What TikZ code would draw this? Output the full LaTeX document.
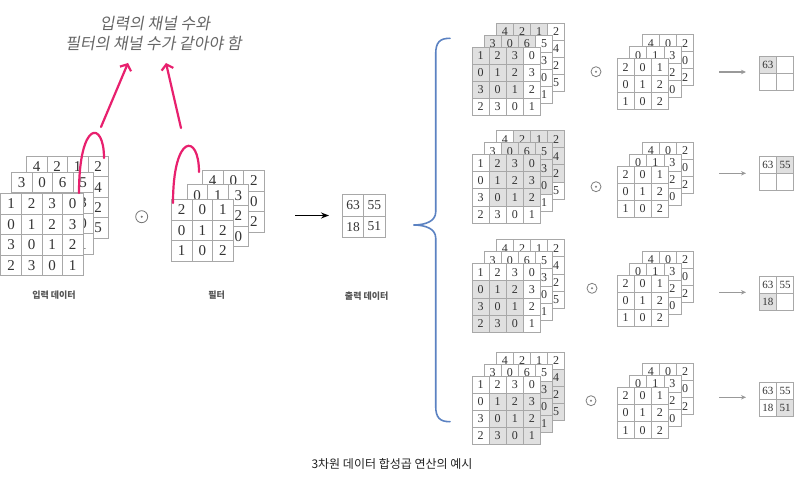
\documentclass[tikz,border=0pt]{standalone}
\usepackage{fontspec}
\setmainfont{Liberation Serif}
\newfontfamily\krfont{Noto Sans CJK KR}
\newfontfamily\krit[FakeSlant=0.18]{Noto Sans CJK KR}
\usetikzlibrary{arrows.meta}
\definecolor{gridc}{HTML}{A8A8A8}
\definecolor{shadec}{HTML}{E0E0E0}
\definecolor{numc}{HTML}{333333}
\definecolor{pinkc}{HTML}{E8206E}
\definecolor{bracec}{HTML}{5B82C2}
\definecolor{titlec}{HTML}{666666}
\definecolor{labelc}{HTML}{555555}
\definecolor{capc}{HTML}{222222}
\definecolor{garrowc}{HTML}{999999}
\tikzset{
  cellbox/.style={draw=gridc, line width=0.7pt, text=numc, inner sep=0pt, anchor=north west},
  bignum/.style={font=\fontsize{15}{15}\selectfont},
  smallnum/.style={font=\fontsize{12}{12}\selectfont},
  outnum/.style={font=\fontsize{13.5}{13.5}\selectfont},
  tinynum/.style={font=\fontsize{11}{11}\selectfont},
  opcirc/.style={circle, draw=#1, line width=0.8pt, inner sep=0pt,
     path picture={\fill[#1] (path picture bounding box.center) circle (1.1pt);}},
  titlesty/.style={font=\krit\fontsize{16}{16}\selectfont, text=titlec, inner sep=0pt},
  labelsty/.style={font=\krfont\bfseries\fontsize{9}{9}\selectfont, text=labelc, inner sep=0pt},
  capsty/.style={font=\krfont\fontsize{12}{12}\selectfont, text=capc, inner sep=0pt},
  pinkline/.style={draw=pinkc, line width=2.2pt, line cap=round},
  pinkarrow/.style={pinkline, -{Straight Barb[length=5pt,width=12pt]}},
  blackarrow/.style={draw=black, line width=1.6pt, -{Stealth[length=8pt,width=6pt]}},
  grayarrow/.style={draw=garrowc, line width=1.4pt, -{Stealth[length=5pt,width=4.5pt]}},
}
% #1 name, #2 x, #3 y(top), #4 cell, #5 font style, #6 data, #7 r0, #8 c0, #9 window size
\newcommand{\cellgrid}[9]{%
  \foreach \row [count=\r from 0] in {#6} {
    \foreach \v [count=\c from 0] in \row {
      \pgfmathtruncatemacro\inwin{and(and(\r>=#7,\r<#7+#9),and(\c>=#8,\c<#8+#9))}
      \ifnum\inwin=1 \def\cellfill{shadec}\else\def\cellfill{white}\fi
      \node[cellbox,#5,minimum size=#4pt,fill=\cellfill] (#1-\r-\c) at ({#2+\c*#4},{#3+\r*#4}) {\v};
    }
  }%
}
% #1 index, #2 T, #3 op y, #4 op x, #5 arrow y, #6 out top, #7 r0, #8 c0, #9 out data
\newcommand{\convpanel}[9]{%
  \cellgrid{p#1ib}{496}{#2-24}{17.1}{smallnum}{{4,2,1,2},{{},{},{},4},{{},{},{},2},{{},{},{},5}}{#7}{#8}{3}
  \cellgrid{p#1im}{483.8}{#2-12}{17.1}{smallnum}{{3,0,6,5},{{},{},{},3},{{},{},{},0},{{},{},{},1}}{#7}{#8}{3}
  \cellgrid{p#1if}{471.7}{#2}{17.1}{smallnum}{{1,2,3,0},{0,1,2,3},{3,0,1,2},{2,3,0,1}}{#7}{#8}{3}
  \cellgrid{p#1fb}{642}{#2-12.5}{17.1}{smallnum}{{4,0,2},{{},{},0},{{},{},2}}{9}{9}{0}
  \cellgrid{p#1fm}{629.3}{#2-0.5}{17.1}{smallnum}{{0,1,3},{{},{},2},{{},{},0}}{9}{9}{0}
  \cellgrid{p#1ff}{616.7}{#2+11.5}{17.1}{smallnum}{{2,0,1},{0,1,2},{1,0,2}}{9}{9}{0}
  \node[opcirc=gray, minimum size=10pt] (p#1op) at (#4,#3) {};
  \coordinate (p#1a1) at (719,#5);
  \coordinate (p#1a2) at (746,#5);
  \draw[grayarrow] (p#1a1) -- (p#1a2);
  \cellgrid{p#1o}{759}{#6}{17.2}{tinynum}{#9}{#7}{#8}{1}
}
\begin{document}
\begin{tikzpicture}[x=1pt,y=-1pt]
\fill[white] (0,0) rectangle (804,492);
\useasboundingbox (0,0) rectangle (804,492);
% title
\node[titlesty] (title1) at (155,23.3) {입력의 채널 수와};
\node[titlesty] (title2) at (153.5,43.3) {필터의 채널 수가 같아야 함};
% left input stack
\cellgrid{inb}{26}{156}{20.5}{bignum}{{4,2,1,2},{{},{},{},4},{{},{},{},2},{{},{},{},5}}{9}{9}{0}
\cellgrid{inm}{11}{172}{20.5}{bignum}{{3,0,6,5},{{},{},{},3},{{},{},{},0},{{},{},{},1}}{9}{9}{0}
\cellgrid{inf}{0.5}{193.3}{20.5}{bignum}{{1,2,3,0},{0,1,2,3},{3,0,1,2},{2,3,0,1}}{9}{9}{0}
% operator
\node[opcirc=gray!90!black, minimum size=12pt] (bigop) at (141.7,216.7) {};
% filter stack
\cellgrid{flb}{202}{170}{20.6}{bignum}{{4,0,2},{{},{},0},{{},{},2}}{9}{9}{0}
\cellgrid{flm}{186.5}{184.5}{20.6}{bignum}{{0,1,3},{{},{},2},{{},{},0}}{9}{9}{0}
\cellgrid{flf}{171}{199}{20.6}{bignum}{{2,0,1},{0,1,2},{1,0,2}}{9}{9}{0}
% arrow to output
\coordinate (ba1) at (295,215.5);
\coordinate (ba2) at (329,215.5);
\draw[blackarrow] (ba1) -- (ba2);
% output
\cellgrid{out}{342}{194.3}{21.3}{outnum}{{63,55},{18,51}}{9}{9}{0}
% labels
\node[labelsty] (lab1) at (54,295.5) {입력 데이터};
\node[labelsty] (lab2) at (216.7,295.5) {필터};
\node[labelsty] (lab3) at (366.7,296.5) {출력 데이터};
% brace
\draw[bracec, line width=1.6pt, line cap=round]
  (450,38.3) .. controls (440,38.3) and (435.7,42) .. (435.7,54)
  -- (435.7,212) .. controls (435.7,221) and (426,225) .. (413.3,225)
  .. controls (426,225) and (435.7,229) .. (435.7,238)
  -- (435.7,406) .. controls (435.7,418) and (440,421.7) .. (450,421.7);
% panels
\convpanel{1}{46.7}{71.7}{596}{72}{56}{0}{0}{{63,{}},{{},{}}}
\convpanel{2}{154.3}{186.7}{596}{173.3}{155.7}{0}{1}{{63,55},{{},{}}}
\convpanel{3}{263.3}{288.3}{592}{292.3}{275.7}{1}{0}{{63,55},{18,{}}}
\convpanel{4}{375.5}{400.7}{591}{397.3}{381.7}{1}{1}{{63,55},{18,51}}
% pink arcs and arrows
\draw[pinkline] (79,193) .. controls (79,120) and (104,120) .. (104,158);
\draw[pinkline] (173,203) .. controls (173,133) and (199,133) .. (199,172);
\coordinate (pk1) at (101,127);
\coordinate (pk2) at (181,128);
\coordinate (pt1) at (128,63);
\coordinate (pt2) at (166,63);
\draw[pinkarrow] (pk1) -- (pt1);
\draw[pinkarrow] (pk2) -- (pt2);
% caption
\node[capsty] (caption) at (392,463.5) {3차원 데이터 합성곱 연산의 예시};
\end{tikzpicture}
\end{document}
